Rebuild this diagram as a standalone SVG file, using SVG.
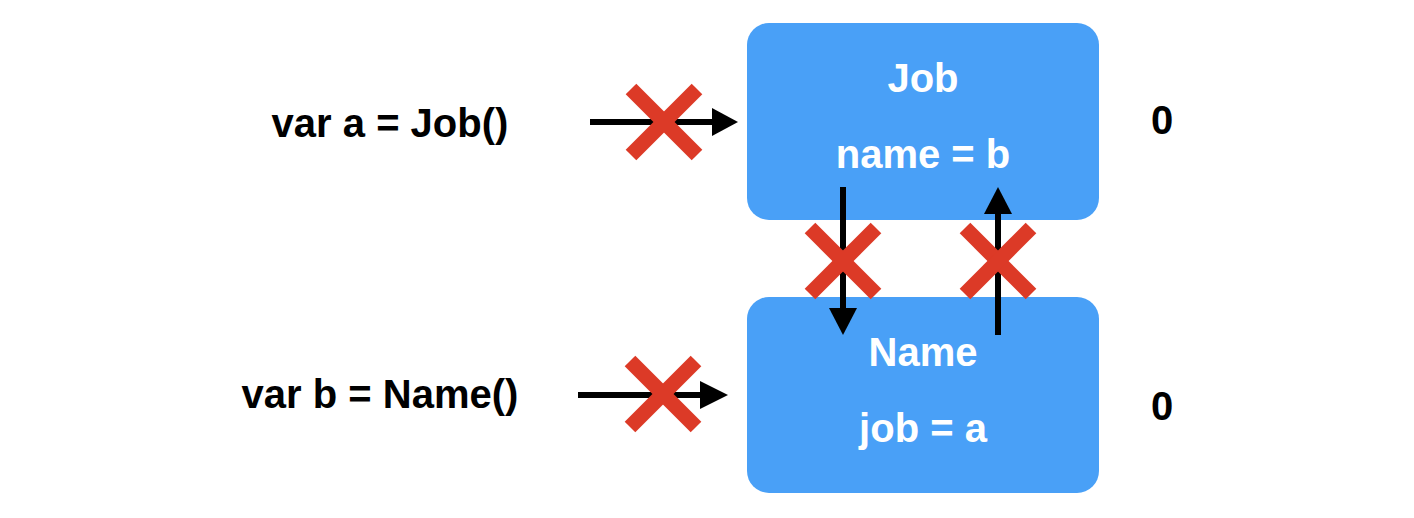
<svg xmlns="http://www.w3.org/2000/svg" width="1414" height="518" viewBox="0 0 1414 518">
<style>
.box{fill:#49A0F7}
.t{font-family:"Liberation Sans",Arial,sans-serif;font-weight:bold;font-size:40px}
.w{fill:#ffffff}
.k{fill:#000000}
.ln{stroke:#000;stroke-width:6;fill:none}
.hd{fill:#000}
.x{stroke:#DC3A27;stroke-width:15;stroke-linecap:butt}
</style>
<rect width="1414" height="518" fill="#fff"/>
<g id="label-a">
<text class="t k" x="390" y="137" text-anchor="middle">var a = Job()</text>
</g>
<g id="label-b">
<text class="t k" x="380" y="408" text-anchor="middle">var b = Name()</text>
</g>
<g id="node-job">
<rect class="box" x="747" y="23" width="352" height="197" rx="22"/>
<text class="t w" x="923" y="92" text-anchor="middle">Job</text>
<text class="t w" x="923" y="168" text-anchor="middle">name = b</text>
</g>
<g id="node-name">
<rect class="box" x="747" y="297" width="352" height="196" rx="22"/>
<text class="t w" x="923" y="366" text-anchor="middle">Name</text>
<text class="t w" x="923" y="442" text-anchor="middle">job = a</text>
</g>
<g id="count-job">
<text class="t k" x="1162" y="134" text-anchor="middle">0</text>
</g>
<g id="count-name">
<text class="t k" x="1162" y="420" text-anchor="middle">0</text>
</g>
<g id="connectors">
<line class="ln" x1="590" y1="122" x2="713" y2="122"/>
<polygon class="hd" points="712,108 738,122 712,136"/>
<line class="ln" x1="578" y1="395" x2="701" y2="395"/>
<polygon class="hd" points="700,381 728,395 700,409"/>
<line class="ln" x1="843" y1="187" x2="843" y2="309"/>
<polygon class="hd" points="829,308 843,335 857,308"/>
<line class="ln" x1="998" y1="335" x2="998" y2="213"/>
<polygon class="hd" points="984,214 998,187 1012,214"/>
</g>
<g id="crosses">
<line class="x" x1="631" y1="89" x2="697" y2="155"/>
<line class="x" x1="697" y1="89" x2="631" y2="155"/>
<line class="x" x1="630" y1="361" x2="696" y2="427"/>
<line class="x" x1="696" y1="361" x2="630" y2="427"/>
<line class="x" x1="810" y1="228" x2="876" y2="294"/>
<line class="x" x1="876" y1="228" x2="810" y2="294"/>
<line class="x" x1="965" y1="228" x2="1031" y2="294"/>
<line class="x" x1="1031" y1="228" x2="965" y2="294"/>
</g>
</svg>
